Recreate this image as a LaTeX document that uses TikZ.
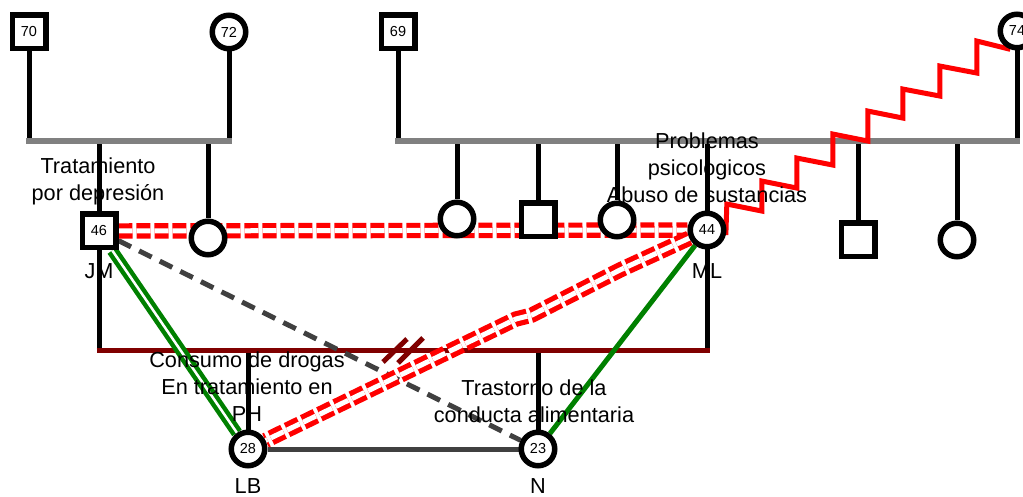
\documentclass[tikz,border=0pt]{standalone}
\usepackage{fontspec}
\setmainfont{Liberation Sans}
\definecolor{dred}{HTML}{800000}
\definecolor{dgreen}{HTML}{008000}
\definecolor{dgray}{HTML}{404040}
\definecolor{mgray}{HTML}{808080}
\pgfdeclarelayer{bg}
\pgfsetlayers{bg,main}
\begin{document}
\begin{tikzpicture}[x=1pt,y=-1pt,
  sq/.style={draw=black, line width=5.5pt, fill=white, minimum size=33.5pt, inner sep=0pt, font=\fontsize{14.5}{15}\selectfont},
  ci/.style={circle, draw=black, line width=5.5pt, fill=white, minimum size=33.5pt, inner sep=0pt, font=\fontsize{14.5}{15}\selectfont},
  lbl/.style={font=\fontsize{21.7}{27}\selectfont, align=center, inner sep=0pt},
  kin/.style={line width=5pt, black},
  sib/.style={line width=5.5pt, mgray, line cap=rect},
  cpl/.style={line width=5pt, dred},
  hostile/.style={line width=5.2pt, red, double=white, double distance=5pt, dash pattern=on 14pt off 4pt},
  close/.style={line width=4.5pt, dgreen, double=white, double distance=2.5pt},
  good/.style={line width=5pt, dgreen},
  distant/.style={line width=5pt, dgray, dash pattern=on 14pt off 9pt},
  abuse/.style={line width=5pt, red, line join=miter},
  sibl/.style={line width=5pt, dgray}]
\useasboundingbox (0,0) rectangle (1023,497);

% generation I
\node[sq] (n70) at (29,32) {70};
\node[ci] (n72) at (229,32) {72};
\node[sq] (n69) at (398,32) {69};
\node[ci] (n74) at (1017,31) {74};
\coordinate (barL) at (0,141);
\coordinate (barR) at (0,141);
\coordinate (cbar) at (0,350);

% generation II
\node[sq] (jm) at (99,231) {46};
\node[ci] (c1) at (208,238) {};
\node[ci] (c2) at (457,219) {};
\node[sq] (c3) at (538,220) {};
\node[ci] (c4) at (617,220) {};
\node[ci] (ml) at (707,230) {44};
\node[sq] (c5) at (858,240) {};
\node[ci] (c6) at (957,240) {};

% generation III
\node[ci] (lb) at (248,449) {28};
\node[ci] (nN) at (538,449) {23};

% labels
\node[lbl] (tJM) at (98,181) {Tratamiento\\por depresión};
\node[lbl] (tML) at (707,168) {Problemas\\psicologicos\\Abuso de sustancias};
\node[lbl] (tLB) at (247,387) {Consumo de drogas\\En tratamiento en\\PH};
\node[lbl] (tN) at (534,401) {Trastorno de la\\conducta alimentaria};
\node[lbl] (lJM) at (99,271) {JM};
\node[lbl] (lML) at (707,271) {ML};
\node[lbl] (lLB) at (248,486) {LB};
\node[lbl] (lN) at (538,486) {N};

\begin{pgfonlayer}{bg}
  % kinship verticals
  \draw[kin] (n70) -- (n70 |- barL);
  \draw[kin] (n72) -- (n72 |- barL);
  \draw[kin] (n69) -- (n69 |- barR);
  \draw[kin] (n74) -- (n74 |- barR);
  \draw[kin] (jm |- barL) -- (jm |- cbar);
  \draw[kin] (c1 |- barL) -- (c1);
  \draw[kin] (c2 |- barR) -- (c2);
  \draw[kin] (c3 |- barR) -- (c3);
  \draw[kin] (c4 |- barR) -- (c4);
  \draw[kin] (ml |- barR) -- (ml |- cbar);
  \draw[kin] (c5 |- barR) -- (c5);
  \draw[kin] (c6 |- barR) -- (c6);
  \draw[kin] (lb |- cbar) -- (lb);
  \draw[kin] (nN |- cbar) -- (nN);
  % sibling bars
  \draw[sib] (n70 |- barL) -- (n72 |- barL);
  \draw[sib] (n69 |- barR) -- (n74 |- barR);
  % couple bar with divorce marks
  \draw[cpl] ([xshift=-2.5pt]jm |- cbar) -- ([xshift=2.5pt]ml |- cbar);
  \draw[cpl] (383,362) -- (407,339);
  \draw[cpl] (398,363) -- (423,338);
  % siblings LB-N
  \draw[sibl] (lb) -- (nN);
  % emotional relations
  \draw[close] (jm) -- (lb);
  \draw[good] (ml) -- (nN);
  \draw[distant] (jm) -- (nN);
  \draw[hostile] (jm) -- (ml);
  \draw[hostile] (ml) -- (620,270) -- (532,315) -- (516,319) -- (lb);
  \draw[abuse] (ml.-15) -- ++(1,-31) -- ++(35,7) -- ++(0,-30) -- ++(35,7)
     -- ++(0,-30) -- ++(36,7) -- ++(0,-31) -- ++(35,7) -- ++(0,-30)
     -- ++(35,7) -- ++(0,-29) -- ++(37,7) -- ++(0,-30) -- ++(37,7)
     -- ++(0,-32) -- (n74.250);
\end{pgfonlayer}
\end{tikzpicture}
\end{document}
